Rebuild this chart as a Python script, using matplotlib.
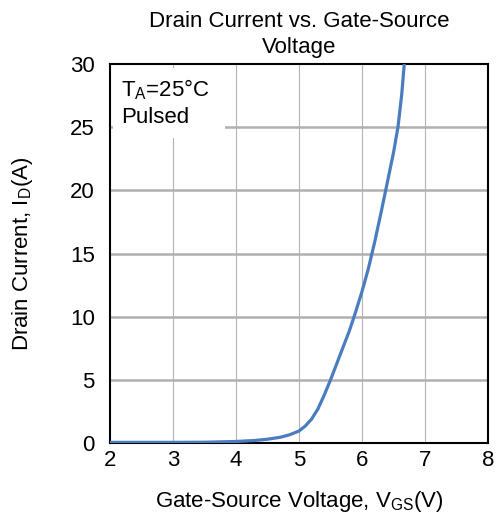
import matplotlib.pyplot as plt
from matplotlib.patches import Rectangle
import numpy as np

plt.rcParams['font.family'] = 'Liberation Sans'
plt.rcParams['mathtext.fontset'] = 'custom'
plt.rcParams['mathtext.rm'] = 'Liberation Sans'
plt.rcParams['mathtext.it'] = 'Liberation Sans:italic'

# transfer curve
vgs = [2.0, 3.0, 3.5, 4.0, 4.3, 4.5, 4.7, 4.85, 5.0, 5.1, 5.2, 5.3, 5.4, 5.5,
       5.6, 5.7, 5.8, 5.9, 6.0, 6.1, 6.2, 6.3, 6.4, 6.5, 6.57, 6.63, 6.67]
i_d = [0.05, 0.05, 0.06, 0.12, 0.2, 0.3, 0.45, 0.65, 0.95, 1.35, 1.9, 2.7, 3.8, 5.0,
       6.3, 7.6, 8.9, 10.4, 12.0, 13.8, 15.9, 18.2, 20.6, 23.0, 25.0, 27.6, 30.0]

x_ticks = [2, 3, 4, 5, 6, 7, 8]
y_ticks = [0, 5, 10, 15, 20, 25, 30]

fig = plt.figure(figsize=(4.98, 5.18), dpi=100)
ax = fig.add_axes([0.221, 0.1448, 0.759, 0.7316])

for v in x_ticks[1:-1]:
    ax.axvline(v, color='#b4b4b4', lw=0.8, zorder=1)
for v in y_ticks[1:-1]:
    ax.axhline(v, color='#b0b0b0', lw=1.8, zorder=1)

ax.add_patch(Rectangle((0.008, 0.805), 0.295, 0.185, transform=ax.transAxes,
                       facecolor='white', edgecolor='none', zorder=2))
ax.text(0.03, 0.965, 'T$_{\\rm A}$=25°C\nPulsed', transform=ax.transAxes,
        fontsize=16, va='top', ha='left', linespacing=1.3, zorder=3)

ax.plot(vgs, i_d, color='#4a7cc0', lw=2.3, zorder=4, solid_capstyle='round')

ax.set_xlim(2, 8)
ax.set_ylim(0, 30)
ax.set_xticks(x_ticks)
ax.set_yticks(y_ticks)
ax.tick_params(length=0, labelsize=16)
ax.tick_params(axis='y', pad=11)
ax.tick_params(axis='x', pad=5)
for s in ax.spines.values():
    s.set_linewidth(1.5)

ax.set_title('Drain Current vs. Gate-Source\nVoltage', fontsize=16, pad=8, linespacing=1.3)
ax.set_xlabel('Gate-Source Voltage, V$_{\\rm GS}$(V)', fontsize=16, labelpad=13)
ax.set_ylabel('Drain Current, I$_{\\rm D}$(A)', fontsize=16, labelpad=25)

fig.savefig('out.png', dpi=100)
